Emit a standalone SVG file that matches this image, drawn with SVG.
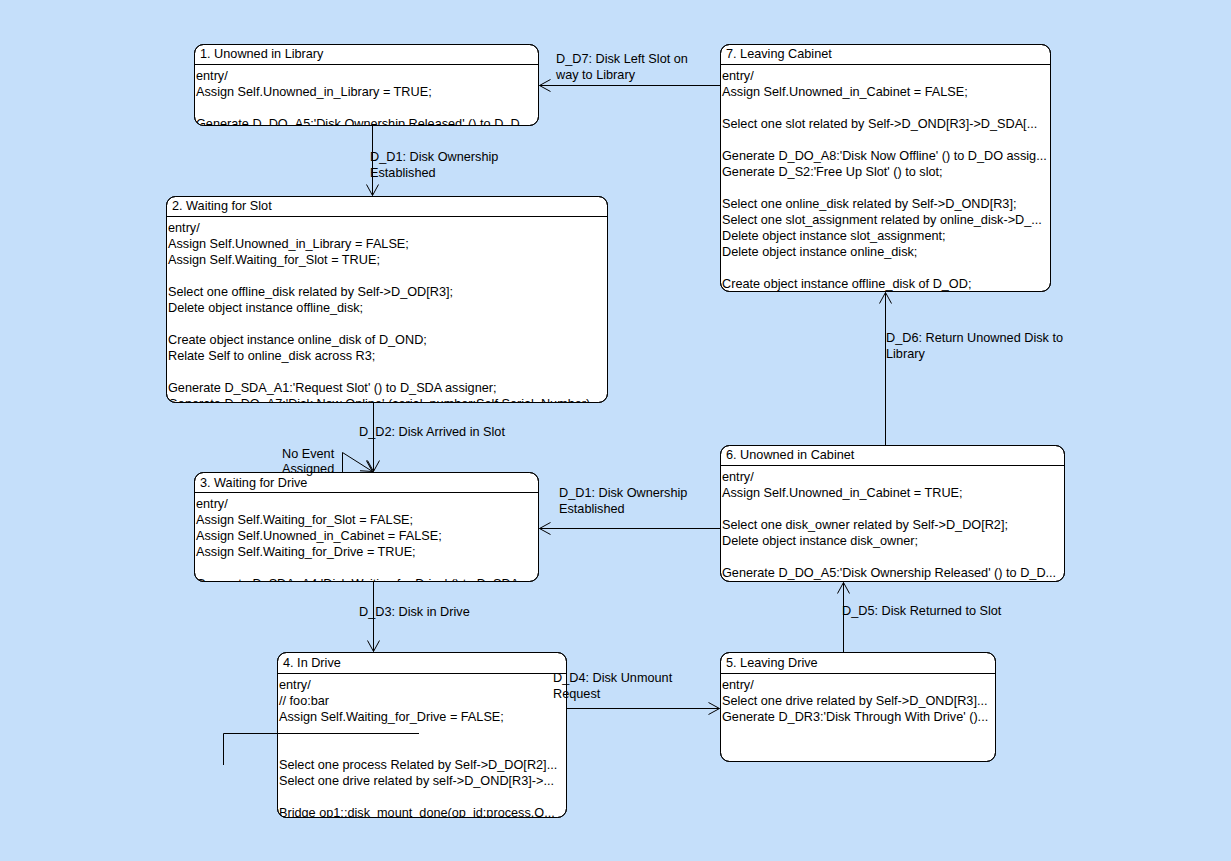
<svg xmlns="http://www.w3.org/2000/svg" width="1231" height="861" viewBox="0 0 1231 861">
<style>
text{font-family:"Liberation Sans",Arial,sans-serif;font-size:12.7px;fill:#000}
.box{fill:#fff;stroke:#000;stroke-width:1}
.sep{stroke:#000;stroke-width:1}
.ln{fill:none;stroke:#000;stroke-width:1}
</style>
<defs>
<marker id="arr" markerWidth="14" markerHeight="14" refX="12" refY="7" orient="auto" markerUnits="userSpaceOnUse">
<path d="M1,1 L12,7 L1,13" fill="none" stroke="#000" stroke-width="1"/>
</marker>
<clipPath id="c1"><rect x="194.5" y="44.5" width="344" height="81" rx="9"/></clipPath>
<clipPath id="c2"><rect x="166.5" y="196.5" width="441" height="206" rx="9"/></clipPath>
<clipPath id="c3"><rect x="194.5" y="472.5" width="344" height="109" rx="9"/></clipPath>
<clipPath id="c4"><rect x="277.5" y="652.5" width="289" height="165" rx="9"/></clipPath>
<clipPath id="c5"><rect x="720.5" y="652.5" width="275" height="109" rx="9"/></clipPath>
<clipPath id="c6"><rect x="720.5" y="445.5" width="344" height="136" rx="9"/></clipPath>
<clipPath id="c7"><rect x="720.5" y="44.5" width="330" height="247" rx="9"/></clipPath>
</defs>
<rect x="0" y="0" width="1231" height="861" fill="#c5dffa"/>

<g id="node1">
<rect class="box" x="194.5" y="44.5" width="344" height="81" rx="9"/>
<line class="sep" x1="194.5" y1="64.5" x2="538.5" y2="64.5"/>
<g clip-path="url(#c1)">
<text x="200" y="58">1. Unowned in Library</text>
<text x="196" y="80">entry/</text>
<text x="196" y="96">Assign Self.Unowned_in_Library = TRUE;</text>
<text x="196" y="128">Generate D_DO_A5:'Disk Ownership Released' () to D_D...</text>
</g>
<rect x="194.5" y="44.5" width="344" height="81" rx="9" fill="none" stroke="#000"/>
</g>

<g id="node2">
<rect class="box" x="166.5" y="196.5" width="441" height="206" rx="9"/>
<line class="sep" x1="166.5" y1="216.5" x2="607.5" y2="216.5"/>
<g clip-path="url(#c2)">
<text x="172" y="210">2. Waiting for Slot</text>
<text x="168" y="232">entry/</text>
<text x="168" y="248">Assign Self.Unowned_in_Library = FALSE;</text>
<text x="168" y="264">Assign Self.Waiting_for_Slot = TRUE;</text>
<text x="168" y="296">Select one offline_disk related by Self-&gt;D_OD[R3];</text>
<text x="168" y="312">Delete object instance offline_disk;</text>
<text x="168" y="344">Create object instance online_disk of D_OND;</text>
<text x="168" y="360">Relate Self to online_disk across R3;</text>
<text x="168" y="392">Generate D_SDA_A1:'Request Slot' () to D_SDA assigner;</text>
<text x="168" y="408">Generate D_DO_A7:'Disk Now Online' (serial_number:Self.Serial_Number)...</text>
</g>
<rect x="166.5" y="196.5" width="441" height="206" rx="9" fill="none" stroke="#000"/>
</g>

<g id="node3">
<rect class="box" x="194.5" y="472.5" width="344" height="109" rx="9"/>
<line class="sep" x1="194.5" y1="492.5" x2="538.5" y2="492.5"/>
<g clip-path="url(#c3)">
<text x="200" y="487">3. Waiting for Drive</text>
<text x="196" y="508">entry/</text>
<text x="196" y="524">Assign Self.Waiting_for_Slot = FALSE;</text>
<text x="196" y="540">Assign Self.Unowned_in_Cabinet = FALSE;</text>
<text x="196" y="556">Assign Self.Waiting_for_Drive = TRUE;</text>
<text x="196" y="588">Generate D_SDA_A4:'Disk Waiting for Drive' () to D_SDA...</text>
</g>
<rect x="194.5" y="472.5" width="344" height="109" rx="9" fill="none" stroke="#000"/>
</g>

<g id="node4">
<rect class="box" x="277.5" y="652.5" width="289" height="165" rx="9"/>
<line class="sep" x1="277.5" y1="673.5" x2="566.5" y2="673.5"/>
<g clip-path="url(#c4)">
<text x="283" y="667">4. In Drive</text>
<text x="279" y="689">entry/</text>
<text x="279" y="705">// foo:bar</text>
<text x="279" y="721">Assign Self.Waiting_for_Drive = FALSE;</text>
<text x="279" y="769">Select one process Related by Self-&gt;D_DO[R2]...</text>
<text x="279" y="785">Select one drive related by self-&gt;D_OND[R3]-&gt;...</text>
<text x="279" y="817">Bridge op1::disk_mount_done(op_id:process.O...</text>
</g>
<rect x="277.5" y="652.5" width="289" height="165" rx="9" fill="none" stroke="#000"/>
</g>

<g id="node5">
<rect class="box" x="720.5" y="652.5" width="275" height="109" rx="9"/>
<line class="sep" x1="720.5" y1="673.5" x2="995.5" y2="673.5"/>
<g clip-path="url(#c5)">
<text x="726" y="667">5. Leaving Drive</text>
<text x="722" y="689">entry/</text>
<text x="722" y="705">Select one drive related by Self-&gt;D_OND[R3]...</text>
<text x="722" y="721">Generate D_DR3:'Disk Through With Drive' ()...</text>
</g>
<rect x="720.5" y="652.5" width="275" height="109" rx="9" fill="none" stroke="#000"/>
</g>

<g id="node6">
<rect class="box" x="720.5" y="445.5" width="344" height="136" rx="9"/>
<line class="sep" x1="720.5" y1="465.5" x2="1064.5" y2="465.5"/>
<g clip-path="url(#c6)">
<text x="726" y="459">6. Unowned in Cabinet</text>
<text x="722" y="481">entry/</text>
<text x="722" y="497">Assign Self.Unowned_in_Cabinet = TRUE;</text>
<text x="722" y="529">Select one disk_owner related by Self-&gt;D_DO[R2];</text>
<text x="722" y="545">Delete object instance disk_owner;</text>
<text x="722" y="577">Generate D_DO_A5:'Disk Ownership Released' () to D_D...</text>
</g>
<rect x="720.5" y="445.5" width="344" height="136" rx="9" fill="none" stroke="#000"/>
</g>

<g id="node7">
<rect class="box" x="720.5" y="44.5" width="330" height="247" rx="9"/>
<line class="sep" x1="720.5" y1="64.5" x2="1050.5" y2="64.5"/>
<g clip-path="url(#c7)">
<text x="726" y="58">7. Leaving Cabinet</text>
<text x="722" y="80">entry/</text>
<text x="722" y="96">Assign Self.Unowned_in_Cabinet = FALSE;</text>
<text x="722" y="128">Select one slot related by Self-&gt;D_OND[R3]-&gt;D_SDA[...</text>
<text x="722" y="160">Generate D_DO_A8:'Disk Now Offline' () to D_DO assig...</text>
<text x="722" y="176">Generate D_S2:'Free Up Slot' () to slot;</text>
<text x="722" y="208">Select one online_disk related by Self-&gt;D_OND[R3];</text>
<text x="722" y="224">Select one slot_assignment related by online_disk-&gt;D_...</text>
<text x="722" y="240">Delete object instance slot_assignment;</text>
<text x="722" y="256">Delete object instance online_disk;</text>
<text x="722" y="288">Create object instance offline_disk of D_OD;</text>
</g>
<rect x="720.5" y="44.5" width="330" height="247" rx="9" fill="none" stroke="#000"/>
</g>

<g id="connectors">
<path class="ln" d="M372.5,125.5 V195.5" marker-end="url(#arr)"/>
<text x="370" y="161">D_D1: Disk Ownership</text>
<text x="370" y="177">Established</text>

<path class="ln" d="M720.5,85.5 H539.5" marker-end="url(#arr)"/>
<text x="556" y="63">D_D7: Disk Left Slot on</text>
<text x="556" y="79">way to Library</text>

<path class="ln" d="M373.5,402.5 V471.5" marker-end="url(#arr)"/>
<text x="359" y="436">D_D2: Disk Arrived in Slot</text>

<path class="ln" d="M342.5,472.5 V452.5 L372.5,471.5" marker-end="url(#arr)"/>
<text x="282" y="458">No Event</text>
<text x="282" y="473">Assigned</text>

<path class="ln" d="M373.5,581.5 V651.5" marker-end="url(#arr)"/>
<text x="359" y="616">D_D3: Disk in Drive</text>

<path class="ln" d="M566.5,708.5 H719.5" marker-end="url(#arr)"/>
<text x="553" y="682">D_D4: Disk Unmount</text>
<text x="553" y="698">Request</text>

<path class="ln" d="M843.5,652.5 V582.5" marker-end="url(#arr)"/>
<text x="842" y="615">D_D5: Disk Returned to Slot</text>

<path class="ln" d="M720.5,528.5 H539.5" marker-end="url(#arr)"/>
<text x="559" y="497">D_D1: Disk Ownership</text>
<text x="559" y="513">Established</text>

<path class="ln" d="M885.5,445.5 V292.5" marker-end="url(#arr)"/>
<text x="886" y="342">D_D6: Return Unowned Disk to</text>
<text x="886" y="358">Library</text>

<path class="ln" d="M223.5,765 V733.5 H419"/>
</g>
</svg>
